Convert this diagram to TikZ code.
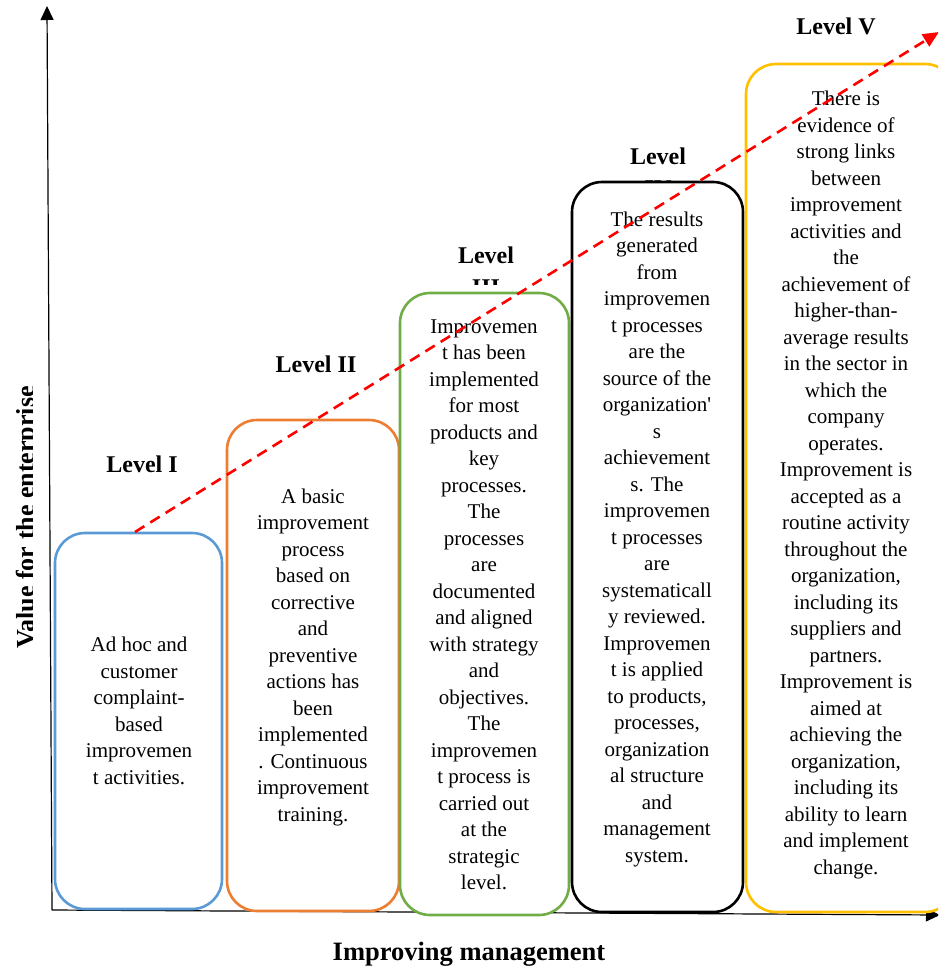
\documentclass[tikz,border=0pt]{standalone}
\usepackage{fontspec}
\setmainfont{Liberation Serif}
\usetikzlibrary{arrows.meta}
\definecolor{cblue}{RGB}{91,155,213}
\definecolor{corange}{RGB}{237,125,49}
\definecolor{cgreen}{RGB}{112,173,71}
\definecolor{cyellow}{RGB}{255,192,0}
\newcommand{\straightapos}{\XeTeXglyph\XeTeXcharglyph"0027\relax}
\tikzset{
  lvlbox/.style={draw=#1, line width=2.6pt, rounded corners=30pt, fill=white},
  bodytext/.style={align=center, inner sep=0pt, font=\fontsize{21}{26.5}\selectfont},
  lvlhead/.style={align=center, inner sep=0pt, font=\fontsize{24}{32}\selectfont\bfseries},
  axisline/.style={line width=1.2pt, -{Triangle[length=14pt,width=13pt]}},
}
\begin{document}
\begin{tikzpicture}[x=1pt,y=-1pt]
\clip (0,0) rectangle (938,969);
\useasboundingbox (0,0) rectangle (938,969);

% axes
\coordinate (o) at (52,910);
\coordinate (ytop) at (47,6);
\coordinate (xend) at (940,915);
\draw[axisline] (o) -- (ytop);
\draw[axisline] (o) -- (xend);

% axis labels
\node[font=\fontsize{26.5}{30}\selectfont\bfseries] (xlab) at (469,954) {Improving management};
\begin{scope}
\clip (0,370) rectangle (32.5,670);
\node[font=\fontsize{26}{30}\selectfont\bfseries, rotate=90, anchor=base] (ylab) at (34,517.5) {Value for the enterprise};
\end{scope}

% level headers
\node[lvlhead] (h1) at (142,464) {Level I};
\node[lvlhead] (h2) at (316,364) {Level II};
\begin{scope}
\clip (420,220) rectangle (560,284);
\node[lvlhead, anchor=base] (h3) at (486,295) {Level\\III};
\end{scope}
\begin{scope}
\clip (590,120) rectangle (730,181);
\node[lvlhead, anchor=base] (h4) at (658,196) {Level\\IV};
\end{scope}
\node[lvlhead] (h5) at (836,26) {Level V};

% boxes
\draw[lvlbox=cblue] (55,533) rectangle (222,909);
\draw[lvlbox=corange] (227,420) rectangle (399,911);
\draw[lvlbox=cgreen] (400,293) rectangle (569,915);
\draw[lvlbox=black] (572,182) rectangle (743,912);
\draw[lvlbox=cyellow] (746,64) rectangle (955,912);

% box texts
\node[bodytext] (t1) at (139,711) {Ad hoc and\\customer\\complaint-\\based\\improvemen\\t activities.};
\node[bodytext] (t2) at (313,657) {A basic\\improvement\\process\\based on\\corrective\\and\\preventive\\actions has\\been\\implemented\\. Continuous\\improvement\\training.};
\node[bodytext] (t3) at (484,605) {Improvemen\\t has been\\implemented\\for most\\products and\\key\\processes.\\The\\processes\\are\\documented\\and aligned\\with strategy\\and\\objectives.\\The\\improvemen\\t process is\\carried out\\at the\\strategic\\level.};
\node[bodytext] (t4) at (657,539) {The results\\generated\\from\\improvemen\\t processes\\are the\\source of the\\organization\straightapos\\s\\achievement\\s. The\\improvemen\\t processes\\are\\systematicall\\y reviewed.\\Improvemen\\t is applied\\to products,\\processes,\\organization\\al structure\\and\\management\\system.};
\node[bodytext] (t5) at (846,485) {There is\\evidence of\\strong links\\between\\improvement\\activities and\\the\\achievement of\\higher-than-\\average results\\in the sector in\\which the\\company\\operates.\\Improvement is\\accepted as a\\routine activity\\throughout the\\organization,\\including its\\suppliers and\\partners.\\Improvement is\\aimed at\\achieving the\\organization,\\including its\\ability to learn\\and implement\\change.};

% trend arrow
\coordinate (s) at (135,532);
\coordinate (e) at (939,32);
\draw[red, line width=2.6pt, dash pattern=on 11pt off 7pt, -{Triangle[length=16pt,width=14pt]}] (s) -- (e);
\end{tikzpicture}
\end{document}
